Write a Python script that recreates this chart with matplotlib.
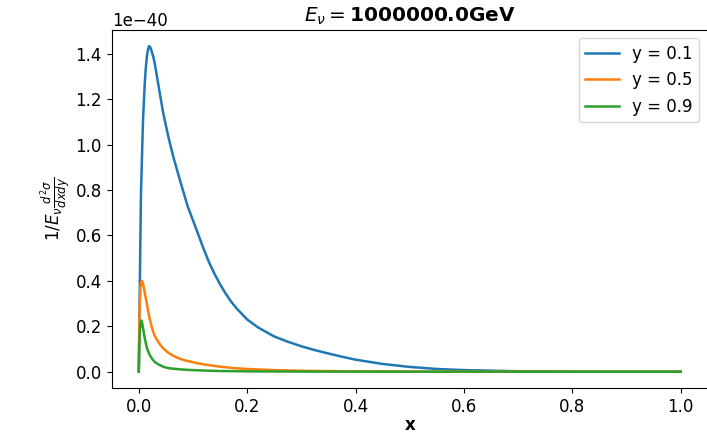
import numpy as np
import matplotlib
matplotlib.use("Agg")
import matplotlib.pyplot as plt

E_nu = 1000000.0
scale = 1e-40

# values (units of 1e-40)
x_01 = [0, 0.001, 0.002, 0.003, 0.004, 0.006, 0.008, 0.011, 0.013, 0.015, 0.017,
        0.019, 0.021, 0.024, 0.027, 0.030, 0.036, 0.045, 0.055, 0.063, 0.076,
        0.090, 0.105, 0.119, 0.130, 0.140, 0.150, 0.160, 0.170, 0.180, 0.190,
        0.200, 0.220, 0.250, 0.275, 0.300, 0.325, 0.350, 0.375, 0.400, 0.450,
        0.500, 0.550, 0.600, 0.700, 0.800, 0.900, 1.0]
v_01 = [0, 0.20, 0.40, 0.60, 0.78, 0.96, 1.12, 1.27, 1.34, 1.39, 1.42,
        1.434, 1.43, 1.41, 1.385, 1.35, 1.265, 1.14, 1.03, 0.953, 0.843,
        0.73, 0.635, 0.545, 0.48, 0.43, 0.385, 0.345, 0.31, 0.28, 0.255,
        0.23, 0.195, 0.155, 0.132, 0.112, 0.095, 0.080, 0.066, 0.053, 0.034,
        0.021, 0.012, 0.007, 0.002, 0.0005, 0.0001, 0]

x_05 = [0, 0.001, 0.002, 0.003, 0.0045, 0.006, 0.008, 0.010, 0.012, 0.014, 0.017,
        0.020, 0.023, 0.026, 0.030, 0.035, 0.040, 0.045, 0.052, 0.060, 0.068,
        0.076, 0.085, 0.094, 0.107, 0.120, 0.135, 0.150, 0.175, 0.200, 0.250,
        0.300, 0.400, 0.500, 0.600, 0.800, 1.0]
v_05 = [0, 0.20, 0.31, 0.37, 0.395, 0.40, 0.385, 0.36, 0.335, 0.31, 0.27,
        0.235, 0.205, 0.18, 0.155, 0.135, 0.117, 0.103, 0.088, 0.075, 0.065,
        0.057, 0.050, 0.045, 0.038, 0.032, 0.027, 0.022, 0.016, 0.012, 0.007,
        0.004, 0.0015, 0.0006, 0.0002, 0, 0]

x_09 = [0, 0.001, 0.002, 0.003, 0.004, 0.005, 0.0065, 0.008, 0.0095, 0.011, 0.013,
        0.015, 0.0175, 0.020, 0.025, 0.030, 0.037, 0.045, 0.052, 0.060, 0.075,
        0.094, 0.120, 0.150, 0.200, 0.300, 0.500, 1.0]
v_09 = [0, 0.12, 0.18, 0.21, 0.222, 0.225, 0.21, 0.19, 0.168, 0.148, 0.125,
        0.105, 0.088, 0.074, 0.055, 0.042, 0.031, 0.022, 0.017, 0.014, 0.0105,
        0.0075, 0.005, 0.003, 0.0015, 0.0005, 0.0001, 0]

plt.rcParams['font.size'] = 12

fig = plt.figure(figsize=(7.07, 4.33), dpi=100)
ax = fig.add_axes([0.158, 0.104, 0.843, 0.827])

ax.plot(x_01, np.array(v_01) * scale, lw=1.8, label="y = 0.1")
ax.plot(x_05, np.array(v_05) * scale, lw=1.8, label="y = 0.5")
ax.plot(x_09, np.array(v_09) * scale, lw=1.8, label="y = 0.9")

ax.set_title(r"$E_{\nu} = $" + str(E_nu) + "GeV", fontweight="bold")
ax.set_xlabel("x", fontweight="bold", labelpad=0)
ax.set_ylabel(r"$1/E_{\nu} \frac{d^2\sigma}{dxdy}$", labelpad=2)
ax.legend(loc="upper right")

fig.savefig("out.png", dpi=100)
